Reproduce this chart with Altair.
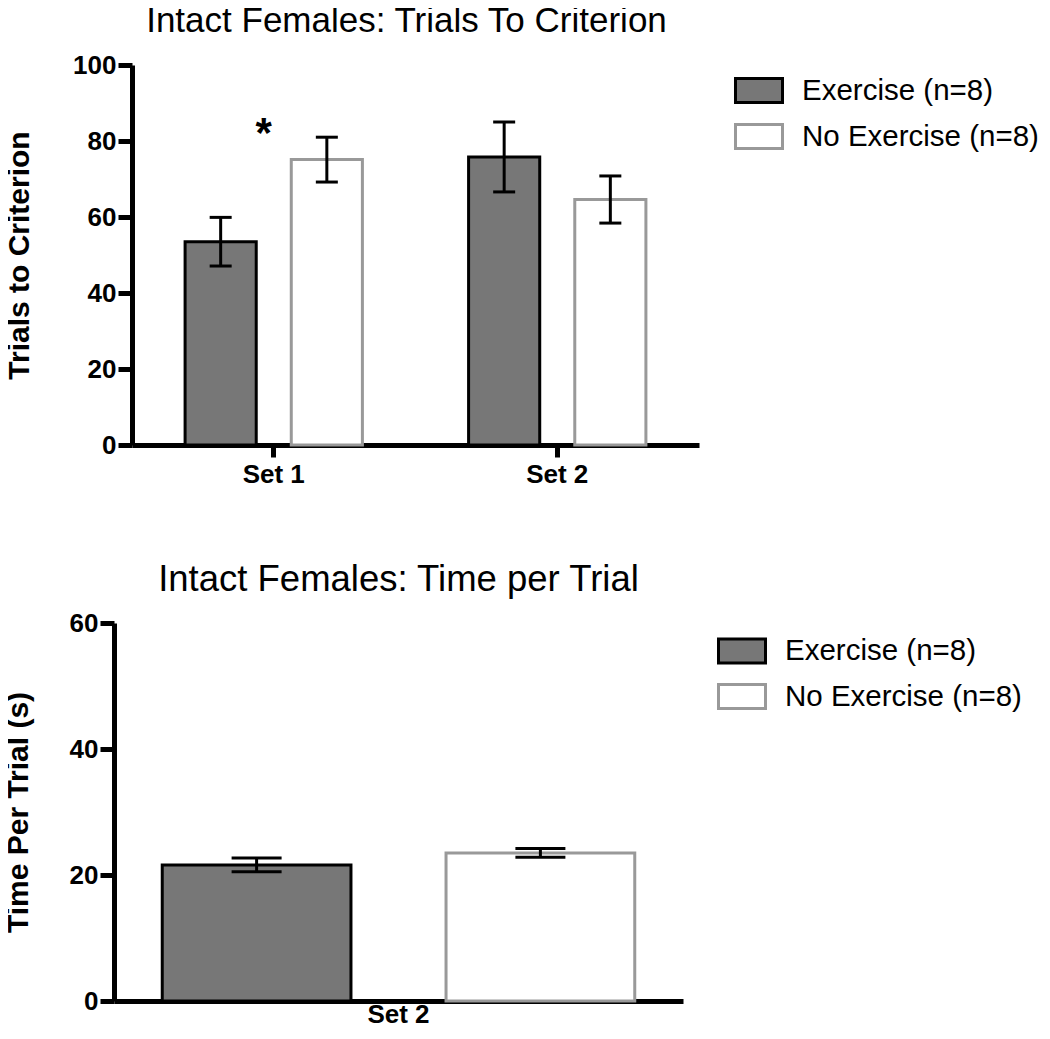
import altair as alt
import pandas as pd

# ---- data ----
GROUPS = ["Exercise (n=8)", "No Exercise (n=8)"]

SETS_TOP = ["Set 1", "Set 2"]
TRIALS_MEAN_EX = [53.5, 75.8]
TRIALS_SEM_EX = [6.4, 9.2]
TRIALS_MEAN_NOEX = [75.1, 64.6]
TRIALS_SEM_NOEX = [5.9, 6.2]
TRIALS_TICKS = [0, 20, 40, 60, 80, 100]

SETS_BOTTOM = ["Set 2"]
TIME_MEAN_EX = [21.6]
TIME_SEM_EX = [1.1]
TIME_MEAN_NOEX = [23.5]
TIME_SEM_NOEX = [0.7]
TIME_TICKS = [0, 20, 40, 60]

STAR_SET = ["Set 1"]
STAR_Y = [84]
STAR_TEXT = ["*"]

FILL_COLORS = ["#777777", "#ffffff"]
STROKE_COLORS = ["#000000", "#999999"]
FONT = "Liberation Sans"


def make_df(sets, mean_ex, sem_ex, mean_no, sem_no):
    df = pd.DataFrame({
        "set": list(sets) * 2,
        "group": [GROUPS[0]] * len(sets) + [GROUPS[1]] * len(sets),
        "mean": list(mean_ex) + list(mean_no),
        "sem": list(sem_ex) + list(sem_no),
    })
    df["lo"] = df["mean"] - df["sem"]
    df["hi"] = df["mean"] + df["sem"]
    return df


top_df = make_df(SETS_TOP, TRIALS_MEAN_EX, TRIALS_SEM_EX, TRIALS_MEAN_NOEX, TRIALS_SEM_NOEX)
bot_df = make_df(SETS_BOTTOM, TIME_MEAN_EX, TIME_SEM_EX, TIME_MEAN_NOEX, TIME_SEM_NOEX)
star_df = pd.DataFrame({"set": STAR_SET, "y": STAR_Y, "label": STAR_TEXT})


def legend(lx, ly, rowpad):
    return alt.Legend(
        title=None, orient="none", legendX=lx, legendY=ly,
        symbolType="M-1,-0.51H1V0.51H-1Z", symbolSize=2209,
        symbolStrokeWidth=3, labelFont=FONT, labelFontSize=29.5,
        labelColor="black", labelOffset=18, rowPadding=rowpad,
        padding=0, labelLimit=500,
    )


def panel(df, sets, xrange, xo_pi, xo_po, ymax, ticks, ytitle,
          yoffset, title_pad, xticks, xlabpad, cap, lx, ly, rowpad):
    xscale = alt.Scale(domain=sets, range=xrange, paddingInner=0, paddingOuter=0)
    xaxis = alt.Axis(
        title=None, labelAngle=0, labelFont=FONT, labelFontSize=26,
        labelFontWeight="bold", labelColor="black", labelPadding=xlabpad,
        domainColor="black", domainWidth=5, ticks=xticks, tickColor="black",
        tickWidth=5, tickSize=12,
    )
    x = alt.X("set:N", sort=sets, scale=xscale, axis=xaxis)
    xo = alt.XOffset("group:N", sort=GROUPS,
                     scale=alt.Scale(domain=GROUPS, paddingInner=xo_pi, paddingOuter=xo_po))
    yaxis = alt.Axis(
        values=ticks, title=ytitle, titleFont=FONT, titleFontSize=30,
        titleFontWeight="bold", titleColor="black", titlePadding=title_pad,
        labelFont=FONT, labelFontSize=26, labelFontWeight="bold",
        labelColor="black", labelPadding=2, domainColor="black",
        domainWidth=5, tickColor="black", tickWidth=5, tickSize=14,
        grid=False, offset=yoffset,
    )
    yscale = alt.Scale(domain=[0, ymax], nice=False, zero=True)
    leg = legend(lx, ly, rowpad)
    base = alt.Chart(df)
    bars = base.mark_bar(strokeWidth=3).encode(
        x=x, xOffset=xo,
        y=alt.Y("mean:Q", scale=yscale, axis=yaxis),
        fill=alt.Fill("group:N", sort=GROUPS,
                      scale=alt.Scale(domain=GROUPS, range=FILL_COLORS), legend=leg),
        stroke=alt.Stroke("group:N", sort=GROUPS,
                          scale=alt.Scale(domain=GROUPS, range=STROKE_COLORS), legend=leg),
    )
    rules = base.mark_rule(color="black", strokeWidth=3).encode(
        x=x, xOffset=xo, y=alt.Y("lo:Q"), y2="hi:Q",
    )
    caps = base.transform_fold(["lo", "hi"], as_=["end", "v"]).mark_tick(
        color="black", thickness=3, size=cap, opacity=1
    ).encode(x=x, xOffset=xo, y=alt.Y("v:Q"))
    return [bars, rules, caps]


top_layers = panel(top_df, SETS_TOP, [18, 585], 0.33, 0.5, 100, TRIALS_TICKS,
                   "Trials to Criterion", -18, 38.6, True, 4, 22, 620, 0.5, 3)
star = alt.Chart(star_df).mark_text(
    font=FONT, fontSize=42, fontWeight="bold", color="black", dx=-10, dy=8,
    baseline="middle",
).encode(
    x=alt.X("set:N", sort=SETS_TOP,
            scale=alt.Scale(domain=SETS_TOP, range=[18, 585], paddingInner=0, paddingOuter=0)),
    y=alt.Y("y:Q"),
    text="label:N",
)
top = alt.layer(*top_layers, star).properties(
    width=585, height=380,
    title=alt.TitleParams("Intact Females: Trials To Criterion", font=FONT,
                          fontSize=35, fontWeight="normal", color="black",
                          anchor="middle", offset=13.5),
)

bot_layers = panel(bot_df, SETS_BOTTOM, [0, 569], 0.335, 0.17, 60, TIME_TICKS,
                   "Time Per Trial (s)", 0, 35.1, False, 0, 50, 603, 3, 2.5)
bottom = alt.layer(*bot_layers).properties(
    width=569, height=378,
    title=alt.TitleParams("Intact Females: Time per Trial", font=FONT,
                          fontSize=36.5, fontWeight="normal", color="black",
                          anchor="middle", offset=11.5),
)

chart = alt.vconcat(top, bottom, spacing=75).resolve_scale(
    x="independent", y="independent", xOffset="independent",
    fill="independent", stroke="independent",
).resolve_legend(fill="independent", stroke="independent").properties(
    padding={"left": -5, "top": -5, "right": 0, "bottom": -4},
).configure_view(stroke=None)

chart.save("out.html", embed_options={"renderer": "svg", "actions": False})
